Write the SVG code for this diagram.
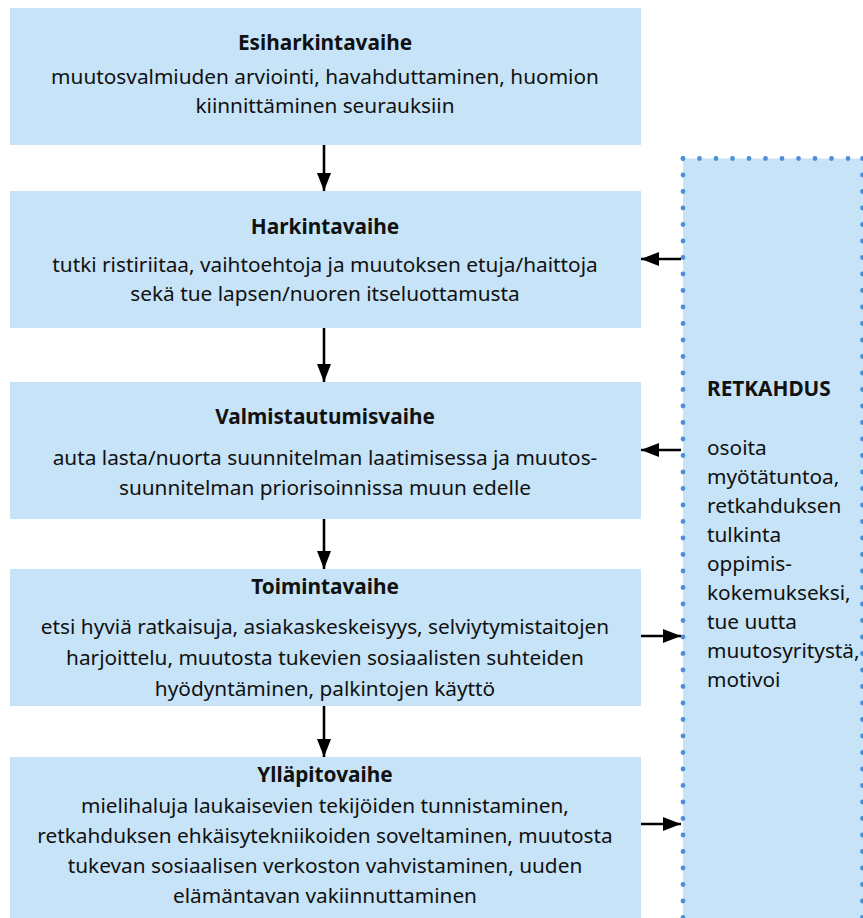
<svg xmlns="http://www.w3.org/2000/svg" width="863" height="918" viewBox="0 0 863 918">
<defs>
<style>
.box{fill:#c6e3f7;}
.t{font-family:"Noto Sans","Open Sans","DejaVu Sans",sans-serif;font-size:20.8px;fill:#111;text-anchor:middle;}
.h{font-weight:bold;}
.p{font-family:"Noto Sans","Open Sans","DejaVu Sans",sans-serif;font-size:20.8px;fill:#111;}
.con{stroke:#000;stroke-width:2.6;fill:none;marker-end:url(#ah);}
.dots{stroke:#4a8fd8;stroke-width:4.8;stroke-linecap:round;stroke-dasharray:0 16.5;fill:none;}
</style>
<marker id="ah" markerUnits="userSpaceOnUse" markerWidth="18" markerHeight="14" refX="18" refY="7" orient="auto">
<path d="M0,0 L18,7 L0,14 z" fill="#000"/>
</marker>
</defs>
<rect width="863" height="918" fill="#fff"/>
<g id="retkahdus">
<rect x="683" y="158.5" width="180" height="760" class="box"/>
<path class="dots" d="M683,158.5 H863"/>
<path class="dots" d="M683,158.5 V918"/>
<path class="dots" d="M862.5,158.5 V918"/>
<text class="p h" x="707" y="396">RETKAHDUS</text>
<text class="p" x="707" y="455">osoita</text>
<text class="p" x="707" y="484">myötätuntoa,</text>
<text class="p" x="707" y="513">retkahduksen</text>
<text class="p" x="707" y="542">tulkinta</text>
<text class="p" x="707" y="571">oppimis-</text>
<text class="p" x="707" y="600">kokemukseksi,</text>
<text class="p" x="707" y="629">tue uutta</text>
<text class="p" x="707" y="658">muutosyritystä,</text>
<text class="p" x="707" y="687">motivoi</text>
</g>
<g id="esiharkintavaihe">
<rect x="10" y="8" width="631" height="137" class="box"/>
<text class="t h" x="325" y="50">Esiharkintavaihe</text>
<text class="t" x="325" y="84">muutosvalmiuden arviointi, havahduttaminen, huomion</text>
<text class="t" x="325" y="113">kiinnittäminen seurauksiin</text>
</g>
<g id="harkintavaihe">
<rect x="10" y="191" width="631" height="137" class="box"/>
<text class="t h" x="325" y="234">Harkintavaihe</text>
<text class="t" x="325" y="272">tutki ristiriitaa, vaihtoehtoja ja muutoksen etuja/haittoja</text>
<text class="t" x="325" y="301">sekä tue lapsen/nuoren itseluottamusta</text>
</g>
<g id="valmistautumisvaihe">
<rect x="10" y="382" width="631" height="137" class="box"/>
<text class="t h" x="325" y="424">Valmistautumisvaihe</text>
<text class="t" x="325" y="465">auta lasta/nuorta suunnitelman laatimisessa ja muutos-</text>
<text class="t" x="325" y="495">suunnitelman priorisoinnissa muun edelle</text>
</g>
<g id="toimintavaihe">
<rect x="10" y="569" width="631" height="137" class="box"/>
<text class="t h" x="325" y="594">Toimintavaihe</text>
<text class="t" x="325" y="634">etsi hyviä ratkaisuja, asiakaskeskeisyys, selviytymistaitojen</text>
<text class="t" x="325" y="665">harjoittelu, muutosta tukevien sosiaalisten suhteiden</text>
<text class="t" x="325" y="696">hyödyntäminen, palkintojen käyttö</text>
</g>
<g id="yllapitovaihe">
<rect x="10" y="757" width="631" height="161" class="box"/>
<text class="t h" x="325" y="782">Ylläpitovaihe</text>
<text class="t" x="325" y="813">mielihaluja laukaisevien tekijöiden tunnistaminen,</text>
<text class="t" x="325" y="843">retkahduksen ehkäisytekniikoiden soveltaminen, muutosta</text>
<text class="t" x="325" y="873">tukevan sosiaalisen verkoston vahvistaminen, uuden</text>
<text class="t" x="325" y="903">elämäntavan vakiinnuttaminen</text>
</g>
<g id="connectors">
<path class="con" d="M324,145 V191"/>
<path class="con" d="M324,328 V382"/>
<path class="con" d="M324,519 V569"/>
<path class="con" d="M324,706 V757"/>
<path class="con" d="M681,259 H641"/>
<path class="con" d="M681,450 H641"/>
<path class="con" d="M641,636 H681"/>
<path class="con" d="M641,824 H681"/>
</g>
</svg>
